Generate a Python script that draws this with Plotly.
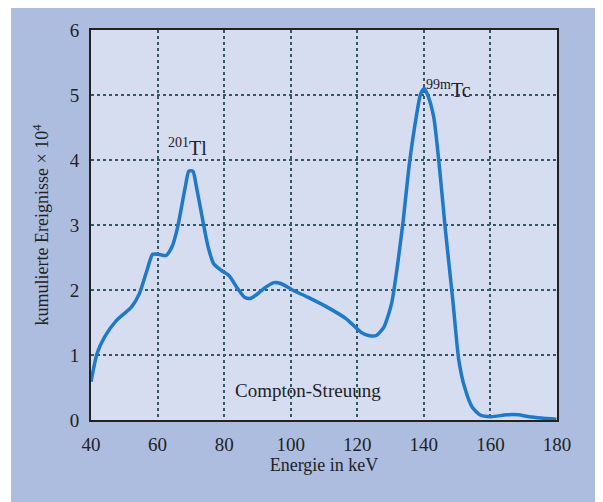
import plotly.graph_objects as go

energy = [40, 41.8, 44.1, 47.6, 52.2, 54.5, 56.8, 58.5, 60.2, 62.5, 64.3, 66, 68.3, 69.4, 70.6,
          71.7, 73.4, 75.2, 76.9, 79.2, 81.5, 83.8, 86.1, 87.8, 89.5, 92.4, 94.7, 97.0, 100.5,
          105.1, 110.8, 116.6, 121.1, 123.4, 125.7, 128, 130.3, 132, 133.8, 135.5, 137.2, 139,
          140.1, 141.3, 143, 144.7, 146.4, 148.7, 150.5, 152.2, 154.5, 156.8, 160.2, 164.8,
          168.3, 171.7, 175.2, 179.8]
counts = [0.59, 1.02, 1.28, 1.53, 1.74, 1.94, 2.30, 2.55, 2.55, 2.53, 2.66, 2.96, 3.58, 3.83, 3.83,
          3.58, 3.12, 2.66, 2.40, 2.30, 2.22, 2.04, 1.89, 1.87, 1.92, 2.04, 2.11, 2.10, 2.00,
          1.89, 1.74, 1.56, 1.35, 1.30, 1.30, 1.43, 1.79, 2.35, 3.07, 3.88, 4.50, 5.01,
          5.10, 4.98, 4.65, 3.88, 2.96, 1.84, 0.92, 0.51, 0.20, 0.08, 0.05, 0.08,
          0.08, 0.05, 0.03, 0.01]

x_ticks = [40, 60, 80, 100, 120, 140, 160, 180]
y_ticks = [0, 1, 2, 3, 4, 5, 6]

FONT = "Liberation Serif"

fig = go.Figure()
fig.add_trace(go.Scatter(x=energy, y=counts, mode="lines",
                         line=dict(color="#1f78c8", width=3.5, shape="spline", smoothing=0.6),
                         showlegend=False))

axis_common = dict(showline=True, linecolor="#222222", linewidth=2, mirror=True,
                   showgrid=True, gridcolor="#2d5c68", gridwidth=1.5, griddash="dot",
                   zeroline=False, ticks="outside", ticklen=6, tickcolor="rgba(0,0,0,0)",
                   tickfont=dict(family=FONT, size=19, color="#222222"))

fig.update_xaxes(range=[40, 180], tickvals=x_ticks,
                 title=dict(text="Energie in keV", font=dict(family=FONT, size=18, color="#222222"), standoff=4),
                 **axis_common)
fig.update_yaxes(range=[0, 6], tickvals=y_ticks,
                 title=dict(text="kumulierte Ereignisse × 10<sup>4</sup>", font=dict(family=FONT, size=18, color="#222222"), standoff=16),
                 **axis_common)

fig.add_annotation(x=69.1, y=4.2, text="<sup>201</sup>Tl", showarrow=False,
                   font=dict(family=FONT, size=20, color="#222222"))
fig.add_annotation(x=147.5, y=5.1, text="<sup>99m</sup>Tc", showarrow=False,
                   font=dict(family=FONT, size=20, color="#222222"))
fig.add_annotation(x=105.2, y=0.46, text="Compton-Streuung", showarrow=False,
                   font=dict(family=FONT, size=19, color="#222222"))

# narrow white strip at the left edge of the page
fig.add_shape(type="rect", xref="paper", yref="paper", x0=-0.3, x1=(3 - 83) / 466, y0=-0.3, y1=1.2,
              fillcolor="white", line=dict(width=0), layer="below")

fig.update_layout(width=595, height=494,
                  margin=dict(l=83, r=46, t=22, b=82, autoexpand=False),
                  paper_bgcolor="#adbde0", plot_bgcolor="#d6ddf0",
                  font=dict(family=FONT, color="#222222"))

fig.write_html("out.html")
